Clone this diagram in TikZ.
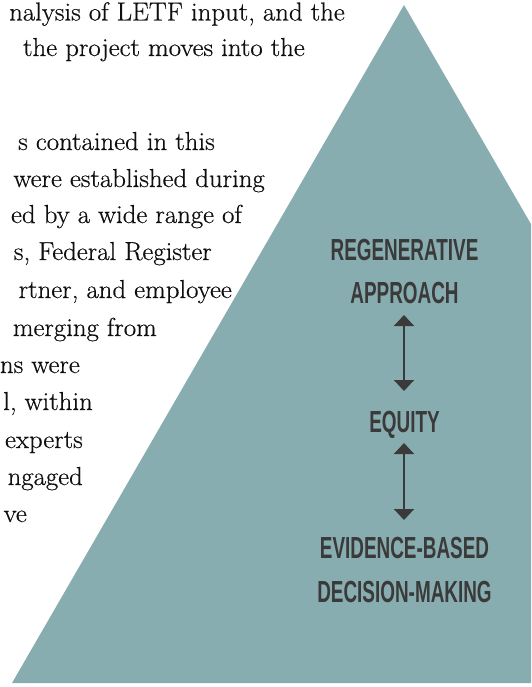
\documentclass[tikz,border=0pt]{standalone}
\usepackage{fontspec}
\newfontfamily\headfont[FakeStretch=0.62]{Liberation Sans}
\newfontfamily\bodyfont[FakeStretch=1.03,FakeBold=0.5]{Latin Modern Roman}
\usetikzlibrary{arrows.meta}
\definecolor{tri}{RGB}{136,173,176}
\definecolor{ink}{RGB}{58,58,58}
\definecolor{body}{RGB}{15,15,15}
\tikzset{
  bodyline/.style={anchor=base east, inner sep=0pt, text=body, font=\bodyfont\fontsize{26}{30}\selectfont},
  headline/.style={anchor=base, inner sep=0pt, text=ink, font=\headfont\bfseries\fontsize{30.5}{34}\selectfont},
  link/.style={draw=ink, line width=2pt, {Triangle[width=20pt,length=11pt]}-{Triangle[width=20pt,length=11pt]}}
}
\begin{document}
\begin{tikzpicture}[x=1pt,y=1pt]
\useasboundingbox (0,0) rectangle (531,-687);
\clip (0,0) rectangle (531,-687);
\fill[white] (0,0) rectangle (531,-687);
% body text
\node[bodyline] (l1) at (345,-20.5) {nalysis of LETF input, and the};
\node[bodyline] (l2) at (305,-56) {the project moves into the};
\node[bodyline] (l3) at (215,-150) {s contained in this};
\node[bodyline] (l4) at (265,-187) {were established during};
\node[bodyline] (l5) at (242,-223) {ed by a wide range of};
\node[bodyline] (l6) at (212,-260) {s, Federal Register};
\node[bodyline] (l7) at (232,-298) {rtner, and employee};
\node[bodyline] (l8) at (157,-336) {merging from};
\node[bodyline] (l9) at (80,-373) {ns were};
\node[bodyline] (l10) at (93,-410) {l, within};
\node[bodyline] (l11) at (83,-448) {experts};
\node[bodyline] (l12) at (83,-485) {ngaged};
\node[bodyline] (l13) at (27,-522) {ve};
% triangle
\fill[tri] (404,-5) -- (12,-683) -- (797,-683) -- cycle;
% headings
\node[headline] (regen) at (404.5,-260) {REGENERATIVE};
\node[headline] (appr) at (404.5,-303) {APPROACH};
\node[headline] (equity) at (404.5,-432) {EQUITY};
\node[headline] (evid) at (404.5,-558) {EVIDENCE-BASED};
\node[headline] (decis) at (404.5,-602) {DECISION-MAKING};
% arrows
\coordinate (a1t) at (404,-315);
\coordinate (a1b) at (404,-391);
\coordinate (a2t) at (404,-443);
\coordinate (a2b) at (404,-520);
\draw[link] (a1t) -- (a1b);
\draw[link] (a2t) -- (a2b);
\end{tikzpicture}
\end{document}
